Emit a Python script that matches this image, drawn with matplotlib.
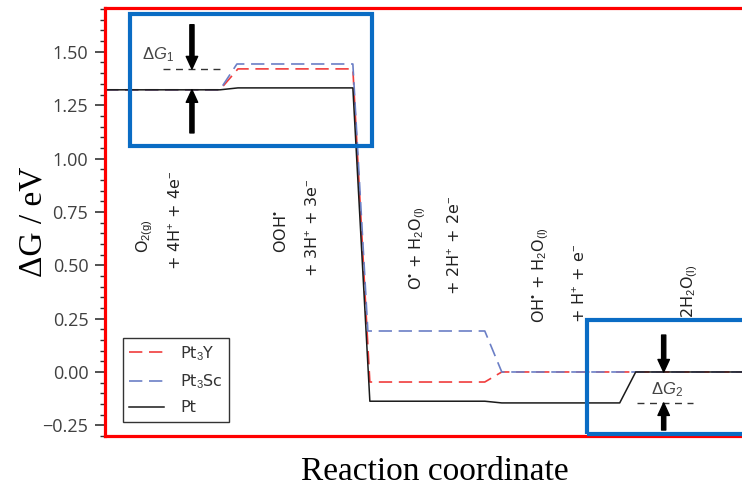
import matplotlib.pyplot as plt
from matplotlib.ticker import MultipleLocator, FuncFormatter
from matplotlib.patches import Rectangle

plt.rcParams['mathtext.fontset'] = 'custom'
plt.rcParams['mathtext.rm'] = 'Liberation Sans'
plt.rcParams['mathtext.it'] = 'Liberation Sans:italic'
plt.rcParams['mathtext.bf'] = 'Liberation Sans:bold'

# reaction coordinate (arbitrary units) and free energies (eV)
x_pt = [0, 1.15, 1.33, 2.48, 2.65, 3.80, 3.97, 5.15, 5.31, 6.6]
g_pt = [1.322, 1.322, 1.331, 1.331, -0.137, -0.137, -0.145, -0.145, 0.0, 0.0]
x_y = [0, 1.15, 1.33, 2.48, 2.65, 3.80, 3.97, 6.6]
g_y = [1.322, 1.322, 1.42, 1.42, -0.047, -0.047, 0.0, 0.0]
x_sc = [0, 1.15, 1.32, 2.48, 2.63, 3.80, 3.97, 6.6]
g_sc = [1.322, 1.322, 1.443, 1.443, 0.192, 0.192, 0.0, 0.0]

labels = ['Pt$_3$Y', 'Pt$_3$Sc', 'Pt']

# intermediate state labels (two lines each, rotated)
states = [
    (r'O$_{2\mathrm{(g)}}$', 0.40, 0.558),
    (r'+ 4H$^{+}$ + 4e$^{-}$', 0.71, 0.478),
    (r'OOH$^{•}$', 1.76, 0.558),
    (r'+ 3H$^{+}$ + 3e$^{-}$', 2.08, 0.445),
    (r'O$^{•}$ + H$_2$O$_{\mathrm{(l)}}$', 3.13, 0.384),
    (r'+ 2H$^{+}$ + 2e$^{-}$', 3.50, 0.361),
    (r'OH$^{•}$ + H$_2$O$_{\mathrm{(l)}}$', 4.36, 0.23),
    (r'+ H$^{+}$ + e$^{-}$', 4.75, 0.23),
    (r'2H$_2$O$_{\mathrm{(l)}}$', 5.85, 0.253),
]

fig = plt.figure(figsize=(7.42, 4.91), dpi=100)
ax = fig.add_axes([0.1415, 0.112, 0.889, 0.872])

ax.plot(x_y, g_y, color='#f03c3c', lw=1.2, dashes=(8, 4), label=labels[0])
ax.plot(x_sc, g_sc, color='#6b7fc6', lw=1.2, dashes=(8, 4), label=labels[1])
ax.plot(x_pt, g_pt, color='#1a1a1a', lw=1.1, label=labels[2])

ax.set_xlim(0, 6.6)
ax.set_ylim(-0.30, 1.706)
ax.set_xticks([])
ax.yaxis.set_major_locator(MultipleLocator(0.25))
ax.yaxis.set_minor_locator(MultipleLocator(0.05))
ax.yaxis.set_major_formatter(FuncFormatter(lambda v, p: f'{v:.2f}'.replace('-', '\u2212')))
ax.tick_params(axis='y', which='major', direction='out', length=7, width=1.2,
               color='#333333', labelcolor='#404040', labelsize=13, pad=5)
ax.tick_params(axis='y', which='minor', direction='out', length=3.5, width=1.0,
               color='#333333')
for lab in ax.get_yticklabels():
    lab.set_fontfamily('Open Sans')

for side in ['left', 'top', 'bottom', 'right']:
    ax.spines[side].set_color('red')
    ax.spines[side].set_linewidth(2.3)

ax.set_xlabel('Reaction coordinate', fontfamily='Liberation Serif', fontsize=24,
              labelpad=15)
ax.set_ylabel('ΔG / eV', fontfamily='Liberation Serif', fontsize=24)
ax.yaxis.set_label_coords(-0.085, 0.5)

for txt, xs, ys in states:
    ax.text(xs, ys, txt, rotation=90, ha='center', va='bottom', fontsize=11.5,
            color='#222222')

leg = ax.legend(loc='lower left', bbox_to_anchor=(0.027, 0.033), borderaxespad=0,
                fancybox=False, framealpha=1, edgecolor='#333333', fontsize=11.5,
                handlelength=2.2, handletextpad=1.0, labelspacing=0.6,
                borderpad=0.4)
leg.get_frame().set_linewidth(1.0)
for t in leg.get_texts():
    t.set_color('#333333')

# delta G annotations
arrow = dict(arrowstyle='simple,head_length=0.6,head_width=0.55,tail_width=0.2',
             color='black', shrinkA=0, shrinkB=0, mutation_scale=15)
ax.plot([0.58, 1.17], [g_y[2], g_y[2]], color='#333333', lw=1.0, dashes=(5, 4))
ax.annotate('', xy=(0.87, g_y[2]), xytext=(0.87, 1.627), arrowprops=arrow)
ax.annotate('', xy=(0.87, g_pt[0]), xytext=(0.87, 1.12), arrowprops=arrow)
ax.text(0.53, 1.486, r'$\Delta G_1$', ha='center', va='center', fontsize=12,
        color='#444444')

ax.plot([5.32, 5.88], [g_pt[6], g_pt[6]], color='#333333', lw=1.0, dashes=(5, 4))
ax.annotate('', xy=(5.59, g_pt[-1]), xytext=(5.59, 0.173), arrowprops=arrow)
ax.annotate('', xy=(5.59, g_pt[6]), xytext=(5.59, -0.272), arrowprops=arrow)
ax.text(5.62, -0.084, r'$\Delta G_2$', ha='center', va='center', fontsize=12,
        color='#444444')

# highlight boxes
ax.add_patch(Rectangle((0.25, 1.06), 2.42, 0.618, fill=False, lw=3,
                       edgecolor='#0a6cc4', zorder=5))
ax.add_patch(Rectangle((4.82, -0.291), 2.0, 0.535, fill=False, lw=3,
                       edgecolor='#0a6cc4', zorder=5, clip_on=False))

fig.savefig('out.png', dpi=100)
